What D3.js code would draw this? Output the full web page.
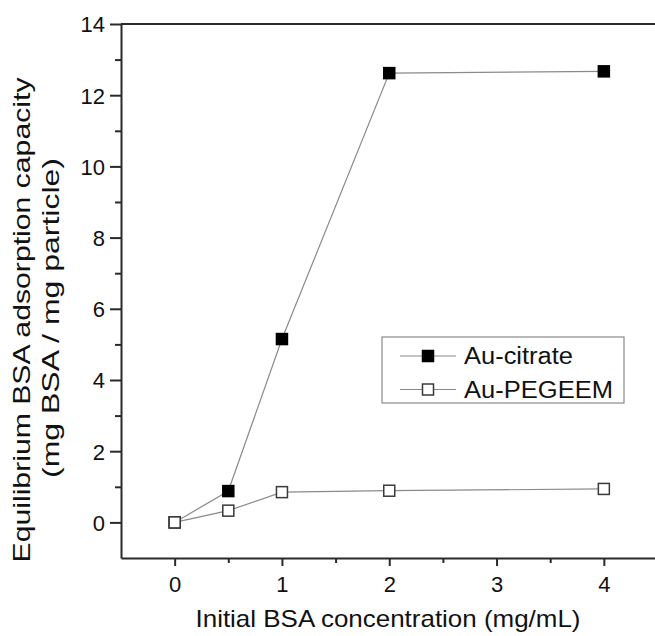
<!DOCTYPE html>
<html>
  <head>
    <meta charset="utf-8">
    <script src="https://d3js.org/d3.v7.min.js"></script>
    <title>BSA adsorption</title>
    <style>
      body {
        margin: 0px;
        background: #fff;
      }
      text {
        font-family: 'Liberation Sans', Arial, sans-serif;
        fill: #111;
      }
    </style>
  </head>
  <body>
    <svg width="655" height="636"></svg>
    <script>
      // values
      const concentrations = [0, 0.5, 1, 2, 4];
      const citrateValues = [0, 0.88, 5.15, 12.62, 12.67];
      const pegeemValues = [0, 0.33, 0.85, 0.89, 0.94];
      const seriesNames = ['Au-citrate', 'Au-PEGEEM'];
      const xTicks = [0, 1, 2, 3, 4];
      const yTicks = [0, 2, 4, 6, 8, 10, 12, 14];
      const xLabel = 'Initial BSA concentration (mg/mL)';
      const yLabel1 = 'Equilibrium BSA adsorption capacity';
      const yLabel2 = '(mg BSA / mg particle)';

      const svg = d3.select('svg');
      const plotLeft = 121, plotRight = 657.5, plotTop = 24, plotBottom = 558;

      const xScale = d3.scaleLinear().domain([-0.5, 4.5]).range([plotLeft, plotRight]);
      const yScale = d3.scaleLinear().domain([-1, 14]).range([plotBottom, plotTop]);

      const axisColor = '#2a2a2a';

      // frame (top + right)
      svg.append('path')
        .attr('d', `M${plotLeft},${plotTop}H${plotRight}V${plotBottom}`)
        .attr('fill', 'none')
        .attr('stroke', axisColor)
        .attr('stroke-width', 2);

      // x axis
      const xAxisG = svg.append('g').attr('transform', `translate(0,${plotBottom})`);
      xAxisG.call(d3.axisBottom(xScale).tickValues(d3.range(-0.5, 4.51, 0.5)).tickSize(0).tickFormat(''));
      xAxisG.selectAll('.tick line')
        .attr('y2', d => Number.isInteger(d) ? 8 : 5);
      xAxisG.selectAll('.tick')
        .filter(d => d < 0)
        .remove();
      xAxisG.selectAll('.tick')
        .filter(d => xTicks.includes(d))
        .append('text')
        .attr('y', 34)
        .attr('text-anchor', 'middle')
        .style('font-size', '22px')
        .text(d => d);

      // y axis
      const yAxisG = svg.append('g').attr('transform', `translate(${plotLeft},0)`);
      yAxisG.call(d3.axisLeft(yScale).tickValues(d3.range(-1, 14.01, 1)).tickSize(0).tickFormat(''));
      yAxisG.selectAll('.tick line')
        .attr('x2', d => yTicks.includes(d) ? -11 : -6);
      yAxisG.selectAll('.tick')
        .filter(d => d < 0)
        .remove();
      yAxisG.selectAll('.tick')
        .filter(d => yTicks.includes(d))
        .append('text')
        .attr('x', -16)
        .attr('dy', '0.36em')
        .attr('text-anchor', 'end')
        .style('font-size', '22px')
        .text(d => d);

      svg.selectAll('.domain, .tick line')
        .attr('stroke', axisColor)
        .attr('stroke-width', 2);

      // axis titles
      svg.append('text')
        .attr('x', 388)
        .attr('y', 627)
        .attr('text-anchor', 'middle')
        .attr('textLength', 385)
        .attr('lengthAdjust', 'spacingAndGlyphs')
        .style('font-size', '24px')
        .text(xLabel);

      svg.append('text')
        .attr('transform', 'translate(30,320) rotate(-90)')
        .attr('text-anchor', 'middle')
        .attr('textLength', 485)
        .attr('lengthAdjust', 'spacingAndGlyphs')
        .style('font-size', '24px')
        .text(yLabel1);

      svg.append('text')
        .attr('transform', 'translate(59,318) rotate(-90)')
        .attr('text-anchor', 'middle')
        .attr('textLength', 320)
        .attr('lengthAdjust', 'spacingAndGlyphs')
        .style('font-size', '24px')
        .text(yLabel2);

      // series
      const series = [
        { name: seriesNames[0], values: citrateValues, fill: '#000' },
        { name: seriesNames[1], values: pegeemValues, fill: '#fff' }
      ];
      const line = d3.line()
        .x((d, i) => xScale(concentrations[i]))
        .y(d => yScale(d));

      const size = 11;
      series.forEach(s => {
        svg.append('path')
          .attr('d', line(s.values))
          .attr('fill', 'none')
          .attr('stroke', '#8a8a8a')
          .attr('stroke-width', 1.2);
      });
      // open squares drawn last so they cover the shared origin
      series.forEach(s => {
        svg.selectAll(null)
          .data(s.values)
          .enter()
          .append('rect')
          .attr('x', (d, i) => xScale(concentrations[i]) - size / 2)
          .attr('y', d => yScale(d) - size / 2)
          .attr('width', size)
          .attr('height', size)
          .attr('fill', s.fill)
          .attr('stroke', s.fill === '#000' ? '#000' : '#3a3a3a')
          .attr('stroke-width', 1.5);
      });

      // legend
      const legend = svg.append('g');
      legend.append('rect')
        .attr('x', 382)
        .attr('y', 337)
        .attr('width', 242)
        .attr('height', 66)
        .attr('fill', '#fff')
        .attr('stroke', '#8a8a8a')
        .attr('stroke-width', 1.2);
      const legendRows = [356, 389.5];
      const legendWidths = [109, 149];
      series.forEach((s, i) => {
        const row = legend.append('g').attr('transform', `translate(0,${legendRows[i]})`);
        row.append('line')
          .attr('x1', 400).attr('x2', 456)
          .attr('stroke', '#8a8a8a')
          .attr('stroke-width', 1.2);
        row.append('rect')
          .attr('x', 428 - size / 2)
          .attr('y', -size / 2)
          .attr('width', size)
          .attr('height', size)
          .attr('fill', s.fill)
          .attr('stroke', s.fill === '#000' ? '#000' : '#3a3a3a')
          .attr('stroke-width', 1.5);
        row.append('text')
          .attr('x', 464)
          .attr('dy', '0.36em')
          .attr('textLength', legendWidths[i])
          .attr('lengthAdjust', 'spacingAndGlyphs')
          .style('font-size', '23px')
          .text(s.name);
      });
    </script>
  </body>
</html>
